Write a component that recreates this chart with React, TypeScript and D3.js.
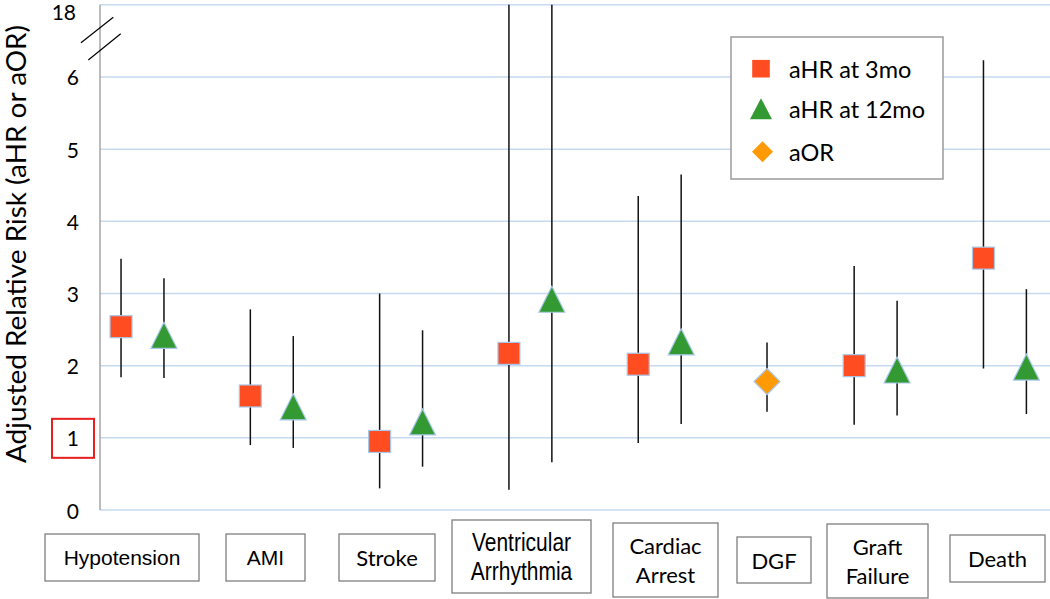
import React from "react";
import * as d3 from "d3";

// ---------- data ----------
const categories = ["Hypotension", "AMI", "Stroke", "Ventricular Arrhythmia", "Cardiac Arrest", "DGF", "Graft Failure", "Death"];
const categoryX = [1, 2, 3, 4, 5, 5.83, 6.67, 7.67];

const hr3 = [2.54, 1.58, 0.95, 2.17, 2.02, null, 2.0, 3.49];
const hr3Low = [1.84, 0.9, 0.3, 0.28, 0.93, null, 1.18, 1.96];
const hr3High = [3.48, 2.78, 3.0, 21.0, 4.35, null, 3.38, 6.23];

const hr12 = [2.42, 1.43, 1.22, 2.92, 2.33, null, 1.94, 1.98];
const hr12Low = [1.83, 0.86, 0.6, 0.66, 1.19, null, 1.31, 1.33];
const hr12High = [3.21, 2.41, 2.49, 19.0, 4.65, null, 2.9, 3.06];

const aor = [null, null, null, null, null, 1.78, null, null];
const aorLow = [null, null, null, null, null, 1.36, null, null];
const aorHigh = [null, null, null, null, null, 2.32, null, null];

const yTickValues = [0, 1, 2, 3, 4, 5, 6, 7];
const yTickLabels = ["0", "1", "2", "3", "4", "5", "6", "18"];
const legendLabels = ["aHR at 3mo", "aHR at 12mo", "aOR"];
const yTitle = "Adjusted Relative Risk (aHR or aOR)";

// ---------- layout / style ----------
const W = 1050;
const H = 599;
const axisX = 100;
const seriesOffset = 0.166;
const COLORS = { sq: "#FF4C21", tri: "#339A33", dia: "#FF9A05", markerStroke: "#A9C8EA", grid: "#C5DAF0", axis: "#A6A6A6" };
const CALIBRI = "Lato, 'Open Sans', sans-serif";
const ARIAL = "'Liberation Sans', Arial, sans-serif";

// label boxes
const labelBoxes = [
  { x0: 45, x1: 199, y0: 534, y1: 581, font: ARIAL, size: 21, sx: 1 },
  { x0: 226, x1: 305, y0: 534, y1: 581, font: ARIAL, size: 21, sx: 1 },
  { x0: 339, x1: 435, y0: 534, y1: 581, font: CALIBRI, size: 22, sx: 1 },
  { x0: 452, x1: 591, y0: 520, y1: 593, font: ARIAL, size: 25, sx: 0.84 },
  { x0: 613, x1: 718, y0: 523, y1: 597, font: CALIBRI, size: 22, sx: 1 },
  { x0: 737, x1: 811, y0: 537, y1: 583, font: CALIBRI, size: 22, sx: 1 },
  { x0: 827, x1: 928, y0: 524, y1: 598, font: CALIBRI, size: 22, sx: 1 },
  { x0: 950, x1: 1045, y0: 535, y1: 582, font: CALIBRI, size: 22, sx: 1 },
];

function splitLabel(s: string): string[] {
  return s.includes(" ") ? s.split(" ") : [s];
}

export default function App() {
  const x = d3.scaleLinear().domain([1, 8]).range([142.5, 142.5 + 7 * 129.3]);
  const y = d3.scaleLinear().domain([0, 7]).range([510, 4.8]).clamp(true);

  const sq = 22;
  const triW = 26;
  const triH = 26;
  const dia = 26;

  const triPath = (cx: number, cy: number, w: number, h: number) =>
    `M${cx},${cy - h / 2}L${cx + w / 2},${cy + h / 2}L${cx - w / 2},${cy + h / 2}Z`;
  const diaPath = (cx: number, cy: number, s: number) =>
    `M${cx},${cy - s / 2}L${cx + s / 2},${cy}L${cx},${cy + s / 2}L${cx - s / 2},${cy}Z`;

  const series = [
    { vals: hr3, lo: hr3Low, hi: hr3High, off: -seriesOffset, kind: "sq" },
    { vals: hr12, lo: hr12Low, hi: hr12High, off: seriesOffset, kind: "tri" },
    { vals: aor, lo: aorLow, hi: aorHigh, off: 0, kind: "dia" },
  ];

  return (
    <svg width={W} height={H} style={{ position: "absolute", left: 0, top: 0, background: "#fff" }}>
      {/* gridlines */}
      {yTickValues.map((v) => (
        <line key={"g" + v} x1={axisX} x2={W} y1={y(v)} y2={y(v)} stroke={COLORS.grid} strokeWidth={1.5} />
      ))}
      {/* axis line */}
      <line x1={axisX} x2={axisX} y1={y(7)} y2={y(0)} stroke={COLORS.axis} strokeWidth={1.5} />
      {/* tick labels */}
      {yTickValues.map((v, i) => {
        const top = i === yTickValues.length - 1;
        return (
          <text key={"t" + v} x={top ? 76 : 79} y={top ? Math.max(y(v), 11) : y(v)} textAnchor="end" dominantBaseline="central"
            fontFamily={CALIBRI} fontSize={21} fill="#000">{yTickLabels[i]}</text>
        );
      })}
      {/* red highlight around 1 */}
      <rect x={52} y={y(1) - 19} width={42} height={39} fill="none" stroke="#E81F1F" strokeWidth={2} />
      {/* axis break marks */}
      <line x1={axisX - 19} y1={42.7} x2={axisX + 13.3} y2={17.3} stroke="#000" strokeWidth={1.2} />
      <line x1={axisX - 11.7} y1={60} x2={axisX + 20.7} y2={33.7} stroke="#000" strokeWidth={1.2} />
      {/* y title */}
      <text transform={`translate(25.5,244) rotate(-90)`} textAnchor="middle" fontFamily={CALIBRI}
        fontSize={26} fill="#000" textLength={438} lengthAdjust="spacingAndGlyphs">{yTitle}</text>

      {/* error bars */}
      {series.map((s, si) =>
        s.vals.map((v, i) => {
          if (v == null) return null;
          const cx = x(categoryX[i] + s.off);
          return (
            <line key={`e${si}-${i}`} x1={cx} x2={cx} y1={y(s.hi[i] as number)} y2={y(s.lo[i] as number)}
              stroke="#111" strokeWidth={1.5} />
          );
        })
      )}
      {/* markers */}
      {series.map((s, si) =>
        s.vals.map((v, i) => {
          if (v == null) return null;
          const cx = x(categoryX[i] + s.off);
          const cy = y(v);
          if (s.kind === "sq")
            return <rect key={`m${si}-${i}`} x={cx - sq / 2} y={cy - sq / 2} width={sq} height={sq}
              fill={COLORS.sq} stroke={COLORS.markerStroke} strokeWidth={1.2} />;
          if (s.kind === "tri")
            return <path key={`m${si}-${i}`} d={triPath(cx, cy, triW, triH)} fill={COLORS.tri}
              stroke={COLORS.markerStroke} strokeWidth={1.2} />;
          return <path key={`m${si}-${i}`} d={diaPath(cx, cy, dia)} fill={COLORS.dia}
            stroke={COLORS.markerStroke} strokeWidth={1.2} />;
        })
      )}

      {/* legend */}
      <g>
        <rect x={731} y={37} width={212} height={142} fill="#fff" stroke="#9A9A9A" strokeWidth={1.5} />
        <rect x={761 - 8.8} y={68.7 - 8.8} width={17.6} height={17.6} fill={COLORS.sq} />
        <path d={triPath(761, 108.7, 22, 21)} fill={COLORS.tri} />
        <path d={diaPath(762.5, 151.7, 21)} fill={COLORS.dia} />
        {legendLabels.map((l, i) => (
          <text key={l} x={789} y={[68.7, 109, 151.7][i]} dominantBaseline="central"
            fontFamily={CALIBRI} fontSize={23.5} fill="#000">{l}</text>
        ))}
      </g>

      {/* category label boxes */}
      {categories.map((c, i) => {
        const b = labelBoxes[i];
        const lines = splitLabel(c);
        const cx = (b.x0 + b.x1) / 2;
        const cy = (b.y0 + b.y1) / 2;
        const lh = 29;
        return (
          <g key={c}>
            <rect x={b.x0} y={b.y0} width={b.x1 - b.x0} height={b.y1 - b.y0} fill="#fff" stroke="#7F7F7F" strokeWidth={1.3} />
            <g transform={`translate(${cx},0) scale(${b.sx},1)`}>
              {lines.map((ln, j) => (
                <text key={ln} x={0} y={cy + (j - (lines.length - 1) / 2) * lh} textAnchor="middle"
                  dominantBaseline="central" fontFamily={b.font} fontSize={b.size} fill="#000">{ln}</text>
              ))}
            </g>
          </g>
        );
      })}
    </svg>
  );
}
